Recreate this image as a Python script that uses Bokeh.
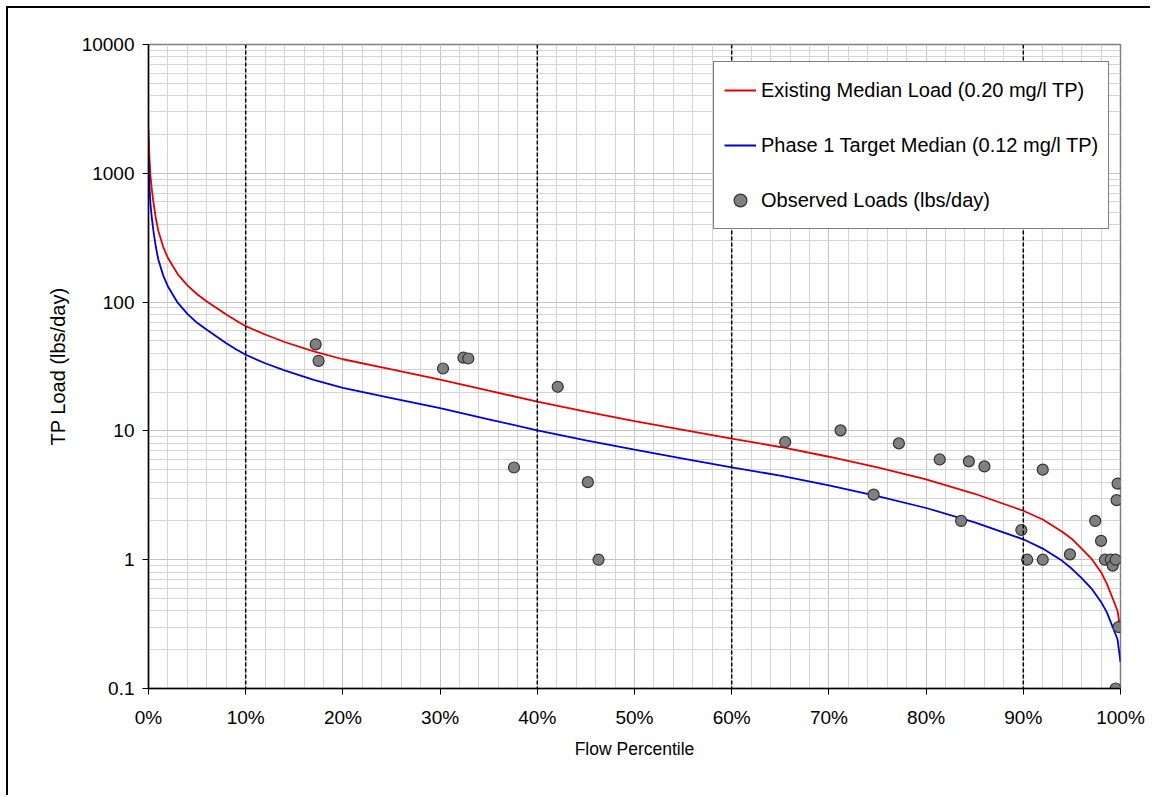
from bokeh.plotting import figure
from bokeh.models import FixedTicker, CustomJSTickFormatter, Span, Legend, LegendItem
from bokeh.embed import file_html
from bokeh.resources import INLINE

# ---- data ----
curve_pct = [0, 0.1, 0.2, 0.35, 0.5, 0.75, 1, 1.5, 2, 3, 4, 5, 6, 7, 8, 9, 10, 12, 14, 17,
             20, 25, 30, 35, 40, 45, 50, 55, 60, 65, 70, 75, 80, 85, 90, 92, 94, 95, 96,
             97, 98, 98.6, 99.2, 99.7, 100]
existing_load = [2190, 1300, 960, 740, 600, 450, 360, 270, 220, 165, 135, 115, 101, 90, 80, 72,
                 65, 56, 49, 41.5, 36, 30, 25, 20.5, 16.9, 14.1, 11.9, 10.2, 8.7, 7.5, 6.3,
                 5.2, 4.2, 3.25, 2.4, 2.05, 1.65, 1.45, 1.22, 1.02, 0.8, 0.65, 0.5, 0.4, 0.28]
target_load = [1330, 780, 580, 445, 360, 270, 215, 162, 132, 99, 81, 69, 61, 54, 48, 43,
               39, 33.5, 29.5, 24.9, 21.6, 18, 15, 12.3, 10.1, 8.45, 7.15, 6.1, 5.2, 4.5,
               3.78, 3.12, 2.52, 1.95, 1.44, 1.22, 0.98, 0.85, 0.72, 0.6, 0.47, 0.39, 0.3,
               0.24, 0.16]

obs_pct = [17.2, 17.5, 30.3, 32.4, 32.9, 37.6, 42.1, 45.2, 46.3, 65.5, 71.2, 74.6, 77.2,
           81.4, 83.6, 84.4, 86.0, 89.8, 90.4, 92.0, 92.0, 94.8, 97.4, 98.0, 98.4, 99.0,
           99.2, 99.5, 99.6, 99.7, 99.8, 99.5]
obs_load = [47, 35, 30.5, 37, 36.5, 5.2, 22, 4.0, 1.0, 8.2, 10.1, 3.2, 8.0, 6.0, 2.0, 5.8,
            5.3, 1.7, 1.0, 1.0, 5.0, 1.1, 2.0, 1.4, 1.0, 1.0, 0.9, 1.0, 2.9, 3.9, 0.3, 0.1]

x_major = [0, 10, 20, 30, 40, 50, 60, 70, 80, 90, 100]
x_minor = list(range(0, 101, 2))
y_major = [0.1, 1, 10, 100, 1000, 10000]
y_minor = [m * 10.0 ** e for e in range(-1, 4) for m in range(2, 10)]
zone_lines = [10, 40, 60, 90]

legend_labels = ["Existing Median Load (0.20 mg/l TP)",
                 "Phase 1 Target Median (0.12 mg/l TP)",
                 "Observed Loads (lbs/day)"]

FONT = "Liberation Sans"

p = figure(width=1144, height=789, x_range=(0, 100), y_range=(0.1, 10000),
           y_axis_type="log", output_backend="svg", toolbar_location=None,
           min_border_left=140, min_border_right=32, min_border_top=36,
           min_border_bottom=109)
p.styles = {"border-left": "2px solid black", "border-top": "2px solid black",
            "margin-left": "6px", "margin-top": "6px"}

p.background_fill_color = "white"
p.border_fill_color = "white"
p.outline_line_color = "#808080"
p.outline_line_width = 1.5

p.xaxis.ticker = FixedTicker(ticks=x_major, minor_ticks=x_minor)
p.yaxis.ticker = FixedTicker(ticks=y_major, minor_ticks=y_minor)
p.xaxis.formatter = CustomJSTickFormatter(code="return Math.round(tick) + '%';")
p.yaxis.formatter = CustomJSTickFormatter(code="return String(tick);")

for g in (p.xgrid, p.ygrid):
    g.grid_line_color = "#c4c4c4"
    g.grid_line_width = 1
    g.minor_grid_line_color = "#d4d4d4"
    g.minor_grid_line_width = 1

for ax in (p.xaxis, p.yaxis):
    ax.axis_line_color = "black"
    ax.axis_line_width = 1.5
    ax.major_tick_line_color = "black"
    ax.major_tick_out = 6
    ax.major_tick_in = 0
    ax.minor_tick_line_color = None
    ax.major_label_text_font = FONT
    ax.major_label_text_font_size = "19px"
    ax.major_label_text_color = "black"
    ax.axis_label_text_font = FONT
    ax.axis_label_text_font_style = "normal"
    ax.axis_label_text_color = "black"

p.xaxis.axis_label = "Flow Percentile"
p.yaxis.axis_label = "TP Load (lbs/day)"
p.xaxis.axis_label_text_font_size = "17.5px"
p.yaxis.axis_label_text_font_size = "20px"
p.xaxis.major_label_standoff = 12
p.yaxis.major_label_standoff = 8
p.xaxis.axis_label_standoff = 8
p.yaxis.axis_label_standoff = 10

for loc in zone_lines:
    p.add_layout(Span(location=loc, dimension="height", line_color="black",
                      line_width=1.5, line_dash="4 2"))

r_red = p.line(curve_pct, existing_load, line_color="#e60000", line_width=1.8)
r_blue = p.line(curve_pct, target_load, line_color="#0000d8", line_width=1.8)
r_obs = p.scatter(obs_pct, obs_load, size=11, fill_color="#808080",
                  line_color="#333333", line_width=1.2)

legend = Legend(items=[LegendItem(label=legend_labels[0], renderers=[r_red]),
                       LegendItem(label=legend_labels[1], renderers=[r_blue]),
                       LegendItem(label=legend_labels[2], renderers=[r_obs])],
                location=(565, 459))
legend.label_text_font = FONT
legend.label_text_font_size = "20px"
legend.label_text_color = "black"
legend.border_line_color = "black"
legend.border_line_width = 1
legend.background_fill_color = "white"
legend.background_fill_alpha = 1
legend.padding = 10
legend.spacing = 19
legend.label_height = 36
legend.glyph_height = 36
legend.glyph_width = 32
legend.label_standoff = 5
legend.margin = 0
p.add_layout(legend)

open("out.html", "w").write(file_html(p, INLINE))
